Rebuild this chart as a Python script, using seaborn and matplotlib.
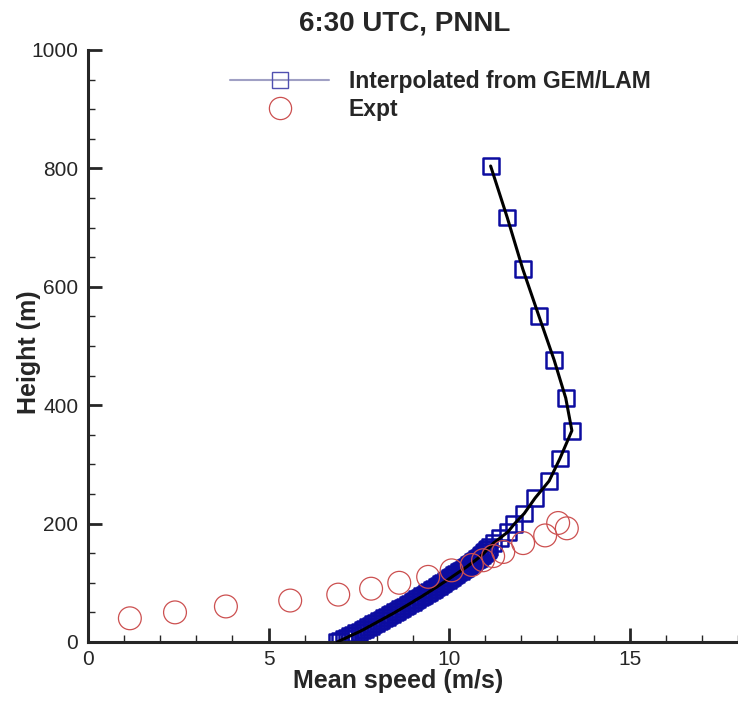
import matplotlib
matplotlib.use("Agg")
import matplotlib.pyplot as plt
import seaborn as sns
import pandas as pd
from matplotlib.lines import Line2D
from matplotlib.ticker import MultipleLocator

# Model profile (Interpolated from GEM/LAM): height (m) and mean speed (m/s)
model_height = [804, 717, 630, 550, 476, 412, 357, 310, 272, 243, 217, 199, 186, 176, 167,
                160, 157.5, 155, 152.5, 150, 147.5, 145, 142.5, 140, 137.5, 135, 132.5, 130,
                127.5, 125, 122.5, 120, 117.5, 115, 112.5, 110, 107.5, 105, 102.5, 100,
                97.5, 95, 92.5, 90, 87.5, 85, 82.5, 80, 77.5, 75, 72.5, 70, 67.5, 65,
                62.5, 60, 57.5, 55, 52.5, 50, 47.5, 45, 42.5, 40, 37.5, 35, 32.5, 30,
                27.5, 25, 22.5, 20, 17.5, 15, 12.5, 10, 7.5, 5, 2.5, 0]
model_speed = [11.15, 11.61, 12.04, 12.49, 12.91, 13.23, 13.40, 13.07, 12.77, 12.38, 12.08, 11.80, 11.63, 11.42, 11.23,
               11.12, 11.08, 11.04, 11.00, 10.96, 10.92, 10.87, 10.82, 10.77, 10.72, 10.66, 10.61, 10.55,
               10.50, 10.44, 10.38, 10.32, 10.26, 10.20, 10.14, 10.08, 10.02, 9.96, 9.90, 9.83,
               9.77, 9.71, 9.65, 9.58, 9.52, 9.45, 9.39, 9.32, 9.26, 9.19, 9.12, 9.05, 8.99, 8.92,
               8.85, 8.78, 8.71, 8.64, 8.57, 8.50, 8.43, 8.35, 8.28, 8.20, 8.13, 8.05, 7.98, 7.90,
               7.83, 7.75, 7.68, 7.60, 7.52, 7.43, 7.34, 7.25, 7.17, 7.08, 6.99, 6.90]

# Experimental profile
expt_height = [40, 50, 60, 70, 80, 90, 100, 110, 121, 130, 138, 145, 152, 167, 180, 192, 201]
expt_speed = [1.16, 2.41, 3.82, 5.60, 6.93, 7.84, 8.62, 9.42, 10.07, 10.63, 10.94, 11.22, 11.50, 12.05, 12.66, 13.26, 13.02]

title = "6:30 UTC, PNNL"
xlabel = "Mean speed (m/s)"
ylabel = "Height (m)"
model_label = "Interpolated from GEM/LAM"
expt_label = "Expt"

model_df = pd.DataFrame({"speed": model_speed, "height": model_height})
expt_df = pd.DataFrame({"speed": expt_speed, "height": expt_height})

sns.set_style("ticks")
plt.rcParams["font.family"] = ["Liberation Sans", "DejaVu Sans"]

fig = plt.figure(figsize=(7.38, 7.01), dpi=100)
ax = fig.add_axes([0.1192, 0.0842, 0.8808, 0.8445])

blue = "#0c0ca0"
red = "#cc5050"

sns.scatterplot(data=model_df, x="speed", y="height", ax=ax, marker="s", s=130,
                facecolors="none", edgecolor=blue, linewidth=1.8, zorder=2, legend=False)
sns.lineplot(data=model_df, x="speed", y="height", ax=ax, sort=False, estimator=None,
             color="black", linewidth=2.2, zorder=3, legend=False)
sns.scatterplot(data=expt_df, x="speed", y="height", ax=ax, marker="o", s=270,
                facecolors="none", edgecolor=red, linewidth=0.9, zorder=4, legend=False)

ax.set_xlim(0, 18)
ax.set_ylim(0, 1000)
ax.xaxis.set_major_locator(MultipleLocator(5))
ax.xaxis.set_minor_locator(MultipleLocator(1))
ax.yaxis.set_major_locator(MultipleLocator(200))
ax.yaxis.set_minor_locator(MultipleLocator(50))
ax.tick_params(which="major", direction="in", length=10, width=2, labelsize=15, pad=6)
ax.tick_params(which="minor", direction="in", length=5, width=1)
ax.tick_params(axis="y", which="major", pad=7)

for side in ["top", "right"]:
    ax.spines[side].set_visible(False)
for side in ["left", "bottom"]:
    ax.spines[side].set_linewidth(2.2)

ax.set_xlabel(xlabel, fontsize=18, fontweight="bold")
ax.set_ylabel(ylabel, fontsize=18, fontweight="bold")
ax.xaxis.set_label_coords(0.477, -0.045)
ax.yaxis.set_label_coords(-0.072, 0.49)
ax.set_title(title, fontsize=20, fontweight="bold", pad=14, x=0.488)

handles = [
    Line2D([0], [0], color="#a0a0c4", linewidth=1.5, marker="s", markersize=11,
           markerfacecolor="none", markeredgecolor="#5050b0", markeredgewidth=1.0),
    Line2D([0], [0], color="none", marker="o", markersize=16,
           markerfacecolor="none", markeredgecolor=red, markeredgewidth=0.9),
]
ax.legend(handles, [model_label, expt_label], loc="upper left",
          bbox_to_anchor=(0.218, 0.966), frameon=False,
          handlelength=4.35, handletextpad=0.85, labelspacing=0.23,
          borderpad=0, borderaxespad=0,
          prop={"weight": "bold", "size": 16.5})

fig.savefig("out.png", dpi=100)
